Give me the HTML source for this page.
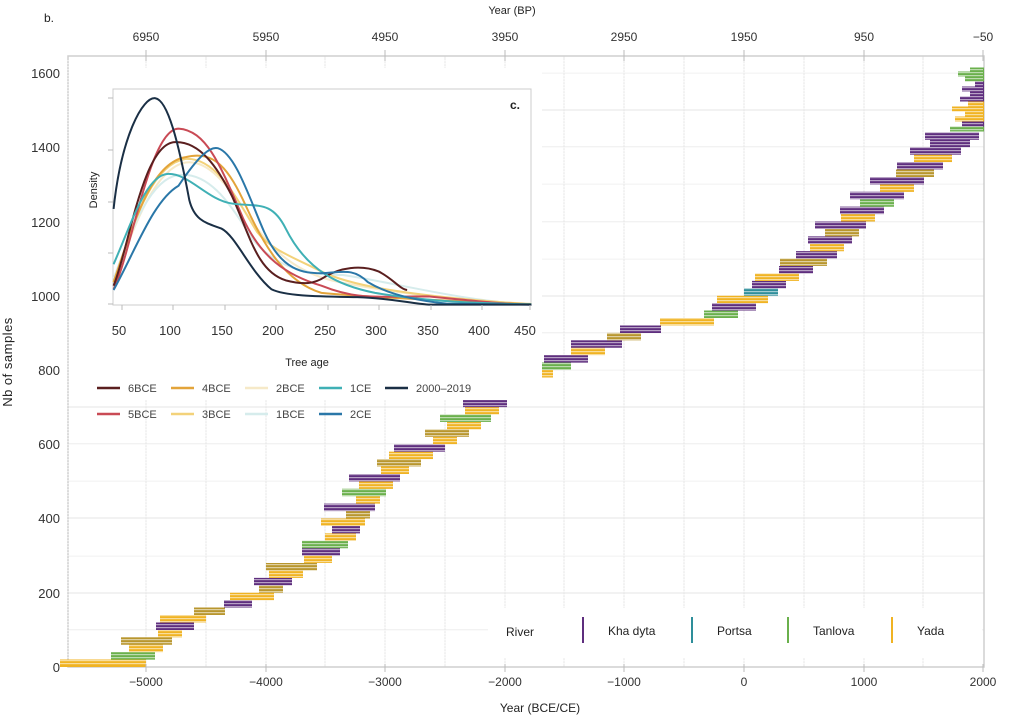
<!DOCTYPE html>
<html><head><meta charset="utf-8"><style>
html,body{margin:0;padding:0;background:#fff;}
svg{display:block;font-family:"Liberation Sans",sans-serif;}
.p{stroke:#5e2e7e}.y{stroke:#f0b323}.g{stroke:#6ab04c}.t{stroke:#2e8e9a}.o{stroke:#b8962e}
#bars line{stroke-width:7.5}
#top line{stroke-width:5}
</style></head><body>
<svg width="1024" height="719" xmlns="http://www.w3.org/2000/svg">
<defs>
<pattern id="st" width="10" height="3" patternUnits="userSpaceOnUse"><rect x="0" y="0" width="10" height="1.2" fill="#fff"/></pattern>
</defs>
<g stroke="#e6e6e6" stroke-width="1">
<line x1="146" y1="56" x2="146" y2="667"/><line x1="206" y1="56" x2="206" y2="667"/><line x1="266" y1="56" x2="266" y2="667"/><line x1="325" y1="56" x2="325" y2="667"/><line x1="385" y1="56" x2="385" y2="667"/><line x1="445" y1="56" x2="445" y2="667"/><line x1="505" y1="56" x2="505" y2="667"/><line x1="564" y1="56" x2="564" y2="667"/><line x1="624" y1="56" x2="624" y2="667"/><line x1="684" y1="56" x2="684" y2="667"/><line x1="744" y1="56" x2="744" y2="667"/><line x1="804" y1="56" x2="804" y2="667"/><line x1="864" y1="56" x2="864" y2="667"/><line x1="923" y1="56" x2="923" y2="667"/>
<line x1="68" y1="630" x2="984" y2="630"/><line x1="68" y1="593" x2="984" y2="593"/><line x1="68" y1="556" x2="984" y2="556"/><line x1="68" y1="518" x2="984" y2="518"/><line x1="68" y1="481" x2="984" y2="481"/><line x1="68" y1="444" x2="984" y2="444"/><line x1="68" y1="407" x2="984" y2="407"/><line x1="68" y1="370" x2="984" y2="370"/><line x1="68" y1="333" x2="984" y2="333"/><line x1="68" y1="296" x2="984" y2="296"/><line x1="68" y1="259" x2="984" y2="259"/><line x1="68" y1="222" x2="984" y2="222"/><line x1="68" y1="184" x2="984" y2="184"/><line x1="68" y1="147" x2="984" y2="147"/><line x1="68" y1="110" x2="984" y2="110"/><line x1="68" y1="73" x2="984" y2="73"/>
</g>
<rect x="68" y="56" width="916" height="611" fill="none" stroke="#cfcfcf" stroke-width="1.5"/>
<g id="bars">
<line class="y" x1="60" x2="146" y1="663.3" y2="663.3"/>
<line class="g" x1="111" x2="155" y1="655.9" y2="655.9"/>
<line class="y" x1="129" x2="163" y1="648.4" y2="648.4"/>
<line class="o" x1="121" x2="172" y1="641.0" y2="641.0"/>
<line class="y" x1="158" x2="182" y1="633.6" y2="633.6"/>
<line class="p" x1="156" x2="194" y1="626.2" y2="626.2"/>
<line class="y" x1="160" x2="206" y1="618.7" y2="618.7"/>
<line class="o" x1="194" x2="225" y1="611.3" y2="611.3"/>
<line class="p" x1="224" x2="252" y1="603.9" y2="603.9"/>
<line class="y" x1="230" x2="274" y1="596.5" y2="596.5"/>
<line class="o" x1="259" x2="283" y1="589.0" y2="589.0"/>
<line class="p" x1="254" x2="292" y1="581.6" y2="581.6"/>
<line class="y" x1="269" x2="303" y1="574.2" y2="574.2"/>
<line class="o" x1="266" x2="317" y1="566.8" y2="566.8"/>
<line class="y" x1="304" x2="332" y1="559.3" y2="559.3"/>
<line class="p" x1="302" x2="340" y1="551.9" y2="551.9"/>
<line class="g" x1="302" x2="348" y1="544.5" y2="544.5"/>
<line class="y" x1="325" x2="356" y1="537.1" y2="537.1"/>
<line class="p" x1="332" x2="360" y1="529.6" y2="529.6"/>
<line class="y" x1="321" x2="365" y1="522.2" y2="522.2"/>
<line class="o" x1="346" x2="370" y1="514.8" y2="514.8"/>
<line class="p" x1="324" x2="375" y1="507.4" y2="507.4"/>
<line class="y" x1="356" x2="380" y1="499.9" y2="499.9"/>
<line class="g" x1="342" x2="386" y1="492.5" y2="492.5"/>
<line class="y" x1="359" x2="393" y1="485.1" y2="485.1"/>
<line class="p" x1="349" x2="400" y1="477.7" y2="477.7"/>
<line class="y" x1="381" x2="409" y1="470.2" y2="470.2"/>
<line class="o" x1="377" x2="421" y1="462.8" y2="462.8"/>
<line class="y" x1="389" x2="433" y1="455.4" y2="455.4"/>
<line class="p" x1="394" x2="445" y1="448.0" y2="448.0"/>
<line class="y" x1="433" x2="457" y1="440.5" y2="440.5"/>
<line class="o" x1="425" x2="469" y1="433.1" y2="433.1"/>
<line class="y" x1="447" x2="481" y1="425.7" y2="425.7"/>
<line class="g" x1="440" x2="491" y1="418.3" y2="418.3"/>
<line class="y" x1="465" x2="499" y1="410.8" y2="410.8"/>
<line class="p" x1="463" x2="507" y1="403.4" y2="403.4"/>
<line class="y" x1="482" x2="516" y1="396.0" y2="396.0"/>
<line class="o" x1="474" x2="525" y1="388.6" y2="388.6"/>
<line class="p" x1="504" x2="535" y1="381.1" y2="381.1"/>
<line class="y" x1="509" x2="553" y1="373.7" y2="373.7"/>
<line class="g" x1="537" x2="571" y1="366.3" y2="366.3"/>
<line class="p" x1="544" x2="588" y1="358.9" y2="358.9"/>
<line class="y" x1="571" x2="605" y1="351.4" y2="351.4"/>
<line class="p" x1="571" x2="622" y1="344.0" y2="344.0"/>
<line class="o" x1="607" x2="641" y1="336.6" y2="336.6"/>
<line class="p" x1="620" x2="661" y1="329.2" y2="329.2"/>
<line class="y" x1="660" x2="714" y1="321.7" y2="321.7"/>
<line class="g" x1="704" x2="738" y1="314.3" y2="314.3"/>
<line class="p" x1="712" x2="756" y1="306.9" y2="306.9"/>
<line class="y" x1="717" x2="768" y1="299.5" y2="299.5"/>
<line class="t" x1="744" x2="778" y1="292.0" y2="292.0"/>
<line class="p" x1="752" x2="786" y1="284.6" y2="284.6"/>
<line class="y" x1="755" x2="799" y1="277.2" y2="277.2"/>
<line class="p" x1="779" x2="813" y1="269.8" y2="269.8"/>
<line class="o" x1="780" x2="827" y1="262.3" y2="262.3"/>
<line class="p" x1="796" x2="837" y1="254.9" y2="254.9"/>
<line class="y" x1="810" x2="844" y1="247.5" y2="247.5"/>
<line class="p" x1="808" x2="852" y1="240.1" y2="240.1"/>
<line class="o" x1="825" x2="859" y1="232.6" y2="232.6"/>
<line class="p" x1="815" x2="866" y1="225.2" y2="225.2"/>
<line class="y" x1="841" x2="875" y1="217.8" y2="217.8"/>
<line class="p" x1="840" x2="884" y1="210.4" y2="210.4"/>
<line class="g" x1="860" x2="894" y1="203.0" y2="203.0"/>
<line class="p" x1="850" x2="904" y1="195.5" y2="195.5"/>
<line class="y" x1="880" x2="914" y1="188.1" y2="188.1"/>
<line class="p" x1="870" x2="924" y1="180.7" y2="180.7"/>
<line class="o" x1="896" x2="934" y1="173.2" y2="173.2"/>
<line class="p" x1="897" x2="943" y1="165.8" y2="165.8"/>
<line class="y" x1="914" x2="952" y1="158.4" y2="158.4"/>
<line class="p" x1="910" x2="961" y1="151.0" y2="151.0"/>
<line class="p" x1="930" x2="970" y1="143.5" y2="143.5"/>
<line class="p" x1="925" x2="979" y1="136.1" y2="136.1"/>
</g>
<g id="top">
<line class="g" x1="950" x2="984" y1="129" y2="129"/>
<line class="p" x1="962" x2="984" y1="124" y2="124"/>
<line class="y" x1="955" x2="984" y1="119" y2="119"/>
<line class="y" x1="965" x2="984" y1="114" y2="114"/>
<line class="y" x1="952" x2="984" y1="109" y2="109"/>
<line class="y" x1="968" x2="984" y1="104" y2="104"/>
<line class="p" x1="960" x2="984" y1="99" y2="99"/>
<line class="p" x1="970" x2="984" y1="94" y2="94"/>
<line class="p" x1="962" x2="984" y1="89" y2="89"/>
<line class="p" x1="975" x2="984" y1="84" y2="84"/>
<line class="g" x1="965" x2="984" y1="79" y2="79"/>
<line class="g" x1="958" x2="984" y1="74" y2="74"/>
<line class="g" x1="970" x2="984" y1="70" y2="70"/>
</g>
<rect x="55" y="60" width="928" height="606" fill="url(#st)" opacity="0.55"/>
<g font-size="12" fill="#333" text-anchor="middle">
<text x="146" y="686">−5000</text><text x="266" y="686">−4000</text><text x="385" y="686">−3000</text><text x="505" y="686">−2000</text><text x="624" y="686">−1000</text><text x="744" y="686">0</text><text x="864" y="686">1000</text><text x="983" y="686">2000</text>
<text x="146" y="41">6950</text><text x="266" y="41">5950</text><text x="385" y="41">4950</text><text x="505" y="41">3950</text><text x="624" y="41">2950</text><text x="744" y="41">1950</text><text x="864" y="41">950</text><text x="983" y="41">−50</text>
</g>
<g stroke="#bbb"><line x1="146" y1="50" x2="146" y2="61"/><line x1="266" y1="50" x2="266" y2="61"/><line x1="385" y1="50" x2="385" y2="61"/><line x1="505" y1="50" x2="505" y2="61"/><line x1="624" y1="50" x2="624" y2="61"/><line x1="744" y1="50" x2="744" y2="61"/><line x1="864" y1="50" x2="864" y2="61"/><line x1="983" y1="50" x2="983" y2="61"/>
<line x1="146" y1="664" x2="146" y2="672"/><line x1="266" y1="664" x2="266" y2="672"/><line x1="385" y1="664" x2="385" y2="672"/><line x1="505" y1="664" x2="505" y2="672"/><line x1="624" y1="664" x2="624" y2="672"/><line x1="744" y1="664" x2="744" y2="672"/><line x1="864" y1="664" x2="864" y2="672"/><line x1="983" y1="664" x2="983" y2="672"/></g>
<g font-size="13" fill="#333" text-anchor="end">
<text x="60" y="672">0</text><text x="60" y="598">200</text><text x="60" y="523">400</text><text x="60" y="449">600</text><text x="60" y="375">800</text><text x="60" y="301">1000</text><text x="60" y="227">1200</text><text x="60" y="152">1400</text><text x="60" y="78">1600</text>
</g>
<text x="44" y="22" font-size="12" fill="#222">b.</text>
<text x="512" y="14" font-size="11" fill="#222" text-anchor="middle">Year (BP)</text>
<text x="540" y="712" font-size="12" fill="#222" text-anchor="middle">Year (BCE/CE)</text>
<text transform="translate(12,362) rotate(-90)" font-size="13" fill="#222" text-anchor="middle" letter-spacing="0.5">Nb of samples</text>
<!-- inset -->
<rect x="69" y="68" width="473" height="332" fill="#fff"/>
<rect x="113" y="89" width="418" height="216" fill="#fff" stroke="#ccc" stroke-width="1"/>
<g transform="scale(0.35714)" fill="none">
<path vector-effect="non-scaling-stroke" stroke-width="2" stroke="#f6e9c8" d="M318,790 C370,650 430,470 520,455 C600,445 660,560 720,640 C780,720 850,770 950,790 C1100,820 1300,845 1488,850"/>
<path vector-effect="non-scaling-stroke" stroke-width="2" stroke="#d6ecec" d="M318,780 C370,640 420,500 500,490 C580,480 640,560 700,660 C760,740 840,770 960,770 C1100,790 1300,845 1488,852"/>
<path vector-effect="non-scaling-stroke" stroke-width="2" stroke="#f3d27a" d="M318,790 C370,640 420,460 520,445 C610,440 670,570 720,650 C760,700 820,720 900,760 C980,800 1150,830 1488,852"/>
<path vector-effect="non-scaling-stroke" stroke-width="2" stroke="#e3a43a" d="M318,790 C370,640 420,455 520,440 C600,420 640,470 690,580 C740,690 800,790 900,820 C1000,830 1200,840 1488,852"/>
<path vector-effect="non-scaling-stroke" stroke-width="2" stroke="#c94a55" d="M318,810 C370,700 420,360 500,360 C580,365 620,470 680,610 C730,720 800,770 900,800 C1000,840 1050,830 1200,830 C1350,845 1420,852 1488,853"/>
<path vector-effect="non-scaling-stroke" stroke-width="2" stroke="#5a1f1f" d="M318,800 C360,700 400,400 490,398 C560,395 610,470 650,550 C700,660 720,760 800,785 C850,798 880,795 910,775 C950,750 1010,740 1060,760 C1100,780 1120,810 1140,812"/>
<path vector-effect="non-scaling-stroke" stroke-width="2" stroke="#3fb0b5" d="M318,740 C370,620 410,490 470,487 C530,485 580,560 650,570 C720,580 760,560 800,640 C860,760 950,800 1050,820 C1200,845 1350,850 1488,852"/>
<path vector-effect="non-scaling-stroke" stroke-width="2" stroke="#2a77a8" d="M318,812 C380,700 430,560 500,520 C560,430 590,410 610,415 C660,430 700,560 740,650 C790,760 850,765 900,765 C960,762 990,750 1030,790 C1080,820 1150,840 1250,850 L1488,853"/>
<path vector-effect="non-scaling-stroke" stroke-width="2" stroke="#1a2f45" d="M318,585 C340,380 400,270 435,275 C470,280 500,400 530,560 C545,620 580,625 620,640 C660,660 700,760 760,810 C800,830 900,830 1000,832 C1100,835 1150,850 1200,853 L1488,853"/>
</g>
<g font-size="13" fill="#333" text-anchor="middle">
<text x="119" y="335">50</text><text x="170" y="335">100</text><text x="222" y="335">150</text><text x="273" y="335">200</text><text x="325" y="335">250</text><text x="376" y="335">300</text><text x="428" y="335">350</text><text x="479" y="335">400</text><text x="525" y="335">450</text>
</g>
<g stroke="#bbb"><line x1="122" y1="305" x2="122" y2="310"/><line x1="173" y1="305" x2="173" y2="310"/><line x1="225" y1="305" x2="225" y2="310"/><line x1="276" y1="305" x2="276" y2="310"/><line x1="328" y1="305" x2="328" y2="310"/><line x1="379" y1="305" x2="379" y2="310"/><line x1="431" y1="305" x2="431" y2="310"/><line x1="482" y1="305" x2="482" y2="310"/><line x1="530" y1="305" x2="530" y2="310"/>
<line x1="108" y1="98" x2="113" y2="98"/><line x1="108" y1="150" x2="113" y2="150"/><line x1="108" y1="202" x2="113" y2="202"/><line x1="108" y1="253" x2="113" y2="253"/><line x1="108" y1="304" x2="113" y2="304"/></g>
<text transform="translate(97,190) rotate(-90)" font-size="11" fill="#222" text-anchor="middle">Density</text>
<text x="307" y="366" font-size="11" fill="#222" text-anchor="middle">Tree age</text>
<text x="510" y="109" font-size="12" fill="#222" font-weight="bold">c.</text>
<g font-size="11" fill="#444" stroke-width="2.5">
<line x1="97" y1="388" x2="120" y2="388" stroke="#5a1f1f"/><text x="128" y="392">6BCE</text>
<line x1="171" y1="388" x2="194" y2="388" stroke="#e3a43a"/><text x="202" y="392">4BCE</text>
<line x1="245" y1="388" x2="268" y2="388" stroke="#f6e9c8"/><text x="276" y="392">2BCE</text>
<line x1="319" y1="388" x2="342" y2="388" stroke="#3fb0b5"/><text x="350" y="392">1CE</text>
<line x1="385" y1="388" x2="408" y2="388" stroke="#1a2f45"/><text x="416" y="392">2000–2019</text>
<line x1="97" y1="414" x2="120" y2="414" stroke="#c94a55"/><text x="128" y="418">5BCE</text>
<line x1="171" y1="414" x2="194" y2="414" stroke="#f3d27a"/><text x="202" y="418">3BCE</text>
<line x1="245" y1="414" x2="268" y2="414" stroke="#d6ecec"/><text x="276" y="418">1BCE</text>
<line x1="319" y1="414" x2="342" y2="414" stroke="#2a77a8"/><text x="350" y="418">2CE</text>
</g>
<rect x="488" y="608" width="494" height="50" fill="#fff"/>
<g font-size="12" fill="#222">
<text x="506" y="636">River</text>
<line x1="583" y1="617" x2="583" y2="643" stroke="#5e2e7e" stroke-width="2"/><text x="608" y="635">Kha dyta</text>
<line x1="692" y1="617" x2="692" y2="643" stroke="#2e8e9a" stroke-width="2"/><text x="717" y="635">Portsa</text>
<line x1="788" y1="617" x2="788" y2="643" stroke="#6ab04c" stroke-width="2"/><text x="813" y="635">Tanlova</text>
<line x1="892" y1="617" x2="892" y2="643" stroke="#f0b323" stroke-width="2"/><text x="917" y="635">Yada</text>
</g>
</svg>
</body></html>
